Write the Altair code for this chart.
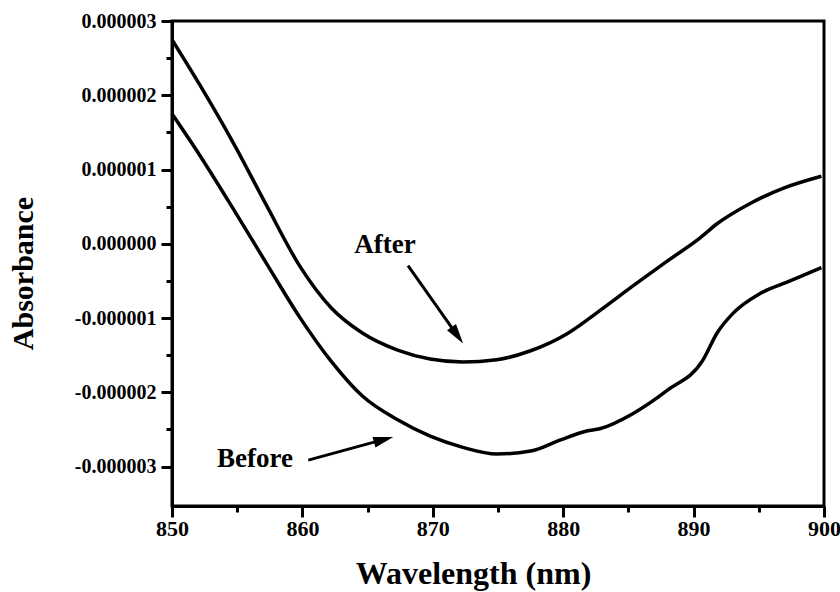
import math
import altair as alt
import pandas as pd

# ---------------- data ----------------
after_wl = [850.0, 852.1, 854.7, 857.3, 859.8, 862.2, 864.6, 867.3, 869.8, 872.3,
            874.9, 877.5, 880.3, 882.8, 885.4, 888.0, 890.5, 891.8, 894.3, 896.9, 899.8]
after_abs = [2.75e-6, 2.15e-6, 1.36e-6, 0.50e-6, -0.30e-6, -0.86e-6, -1.20e-6, -1.43e-6,
             -1.55e-6, -1.59e-6, -1.56e-6, -1.44e-6, -1.21e-6, -0.90e-6, -0.56e-6,
             -0.23e-6, 0.08e-6, 0.27e-6, 0.54e-6, 0.75e-6, 0.91e-6]

before_wl = [850.0, 852.1, 854.7, 857.3, 859.8, 862.2, 864.6, 867.3, 869.8, 872.3,
             874.9, 877.5, 879.8, 881.8, 882.8, 885.4, 888.0, 890.7, 891.8, 893.0,
             895.1, 897.4, 899.8]
before_abs = [1.75e-6, 1.20e-6, 0.47e-6, -0.28e-6, -0.99e-6, -1.58e-6, -2.05e-6, -2.37e-6,
              -2.59e-6, -2.74e-6, -2.83e-6, -2.79e-6, -2.64e-6, -2.52e-6, -2.49e-6,
              -2.28e-6, -1.97e-6, -1.57e-6, -1.20e-6, -0.94e-6, -0.67e-6, -0.50e-6,
              -0.32e-6]

x_tick_values = [850, 855, 860, 865, 870, 875, 880, 885, 890, 895, 900]
y_tick_values = [-3.0e-6, -2.5e-6, -2.0e-6, -1.5e-6, -1.0e-6, -0.5e-6, 0.0,
                 0.5e-6, 1.0e-6, 1.5e-6, 2.0e-6, 2.5e-6, 3.0e-6]

label_text = ["After", "Before"]
label_wl = [866.33, 856.37]
label_abs = [-0.12e-6, -3.01e-6]

arrow_start_wl = [868.10, 860.45]
arrow_start_abs = [-0.295e-6, -2.913e-6]
arrow_tip_wl = [872.32, 866.97]
arrow_tip_abs = [-1.342e-6, -2.600e-6]

# ---------------- layout ----------------
W, H = 652, 485
XDOM = [850, 900]
YDOM = [-3.53e-6, 3.0e-6]
FONT = "Liberation Serif"
HEAD_LEN = 20

px_x = W / (XDOM[1] - XDOM[0])
px_y = H / (YDOM[1] - YDOM[0])

curves = pd.concat([
    pd.DataFrame({"wl": after_wl, "abs": after_abs, "series": "After"}),
    pd.DataFrame({"wl": before_wl, "abs": before_abs, "series": "Before"}),
])

labels = pd.DataFrame({"wl": label_wl, "abs": label_abs, "text": label_text})

rows = []
for i in range(len(arrow_tip_wl)):
    dx = (arrow_tip_wl[i] - arrow_start_wl[i]) * px_x
    dy = -(arrow_tip_abs[i] - arrow_start_abs[i]) * px_y  # screen coordinates
    L = math.hypot(dx, dy)
    ux, uy = dx / L, dy / L
    ang = math.degrees(math.atan2(dx, -dy)) % 360
    # centre of the arrow head, half a head length back from the tip
    cx = arrow_tip_wl[i] - ux * HEAD_LEN / 2 / px_x
    cy = arrow_tip_abs[i] + uy * HEAD_LEN / 2 / px_y
    # shaft ends at the base of the head
    ex = arrow_tip_wl[i] - ux * (HEAD_LEN - 2) / px_x
    ey = arrow_tip_abs[i] + uy * (HEAD_LEN - 2) / px_y
    rows.append({"x0": arrow_start_wl[i], "y0": arrow_start_abs[i], "x1": ex, "y1": ey,
                 "cx": cx, "cy": cy, "ang": ang})
arrows = pd.DataFrame(rows)

xscale = alt.Scale(domain=XDOM, nice=False, zero=False)
yscale = alt.Scale(domain=YDOM, nice=False, zero=False)

x_axis = alt.Axis(
    values=x_tick_values,
    labelExpr="datum.value % 10 === 0 ? datum.label : ''",
    tickSize={"condition": {"test": "datum.value % 10 !== 0", "value": 6}, "value": 11},
    tickWidth=3, tickColor="black", domainWidth=3, domainColor="black",
    labelFont=FONT, labelFontWeight="bold", labelFontSize=22, labelColor="black",
    labelPadding=1, labelFlush=False, labelOverlap=False, grid=False,
    title="Wavelength (nm)", titleFont=FONT, titleFontWeight="bold", titleFontSize=32,
    titleColor="black", titleX=301, titleY=77, titleBaseline="alphabetic", titleAlign="center",
)

y_axis = alt.Axis(
    values=y_tick_values, format=".6f",
    labelExpr="abs(round(datum.value*1e6) - datum.value*1e6) > 0.25 ? '' : replace(datum.label, '\u2212', '-')",
    tickSize={"condition": {"test": "abs(round(datum.value*1e6) - datum.value*1e6) > 0.25", "value": 6}, "value": 11},
    tickWidth=3, tickColor="black", domainWidth=3, domainColor="black",
    labelFont=FONT, labelFontWeight="bold", labelFontSize=20, labelColor="black",
    labelPadding=5, labelOverlap=False, grid=False,
    title="Absorbance", titleFont=FONT, titleFontWeight="bold", titleFontSize=30,
    titleColor="black", titleAngle=270, titleX=-140, titleY=252,
    titleBaseline="alphabetic", titleAlign="center",
)

lines = alt.Chart(curves).mark_line(
    color="black", strokeWidth=3.5, interpolate="monotone", clip=True
).encode(
    x=alt.X("wl:Q", scale=xscale, axis=x_axis),
    y=alt.Y("abs:Q", scale=yscale, axis=y_axis),
    detail="series:N",
)

texts = alt.Chart(labels).mark_text(
    font=FONT, fontWeight="bold", fontSize=27, color="black",
    align="center", baseline="alphabetic"
).encode(
    x=alt.X("wl:Q", scale=xscale),
    y=alt.Y("abs:Q", scale=yscale),
    text="text:N",
)

shafts = alt.Chart(arrows).mark_rule(color="black", strokeWidth=3).encode(
    x=alt.X("x0:Q", scale=xscale), y=alt.Y("y0:Q", scale=yscale),
    x2="x1:Q", y2="y1:Q",
)

heads = alt.Chart(arrows).mark_point(
    shape="M0,-1L-0.55,1L0.55,1Z", filled=True, color="black", opacity=1,
    size=HEAD_LEN * HEAD_LEN,
).encode(
    x=alt.X("cx:Q", scale=xscale), y=alt.Y("cy:Q", scale=yscale),
    angle=alt.Angle("ang:Q", scale=None),
)

chart = alt.layer(lines, shafts, heads, texts).properties(
    width=W, height=H,
    autosize=alt.AutoSizeParams(type="none"),
    padding={"left": 172, "top": 21, "right": 16, "bottom": 86},
    background="white",
).configure_view(stroke="black", strokeWidth=3)

chart.save("out.html", embed_options={"renderer": "svg", "actions": False})
